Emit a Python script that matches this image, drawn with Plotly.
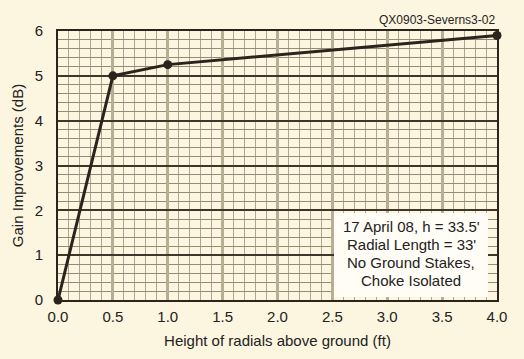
import plotly.graph_objects as go

heights = [0.0, 0.5, 1.0, 4.0]
gain_db = [0.0, 5.0, 5.25, 5.9]
x_ticks = [0.0, 0.5, 1.0, 1.5, 2.0, 2.5, 3.0, 3.5, 4.0]
x_tick_labels = ["0.0", "0.5", "1.0", "1.5", "2.0", "2.5", "3.0", "3.5", "4.0"]
y_ticks = [0, 1, 2, 3, 4, 5, 6]
note_lines = ["17 April 08, h = 33.5'", "Radial Length = 33'", "No Ground Stakes,", "Choke Isolated"]
figure_id = "QX0903-Severns3-02"

BG = "#FCF5DF"
INK = "#2a241c"
FONT = "Liberation Sans, Arial, sans-serif"

fig = go.Figure()
fig.add_trace(go.Scatter(
    x=heights, y=gain_db, mode="lines+markers",
    line=dict(color=INK, width=3),
    marker=dict(color=INK, size=9),
    showlegend=False, cliponaxis=False,
))

# white note box
fig.add_shape(type="rect", xref="paper", yref="paper",
              x0=(334 - 58) / 439, x1=(488 - 58) / 439,
              y0=(300 - 297) / 269, y1=(300 - 213) / 269,
              fillcolor="#FFFDF6", line=dict(width=0), layer="above")
for i, t in enumerate(note_lines):
    fig.add_annotation(text=t, xref="paper", yref="paper",
                       x=(411 - 58) / 439, y=(300 - (226 + 18 * i)) / 269,
                       showarrow=False, xanchor="center", yanchor="middle",
                       font=dict(family=FONT, size=15, color="#222"))

fig.add_annotation(text=figure_id, xref="paper", yref="paper",
                   x=1.0, y=(300 - 19.5) / 269, xanchor="right", yanchor="middle",
                   showarrow=False, font=dict(family=FONT, size=12, color="#222"))

fig.update_layout(
    width=524, height=359,
    margin=dict(l=58, r=27, t=31, b=59, autoexpand=False),
    paper_bgcolor=BG, plot_bgcolor=BG,
    font=dict(family=FONT, size=15, color="#222"),
    xaxis=dict(
        range=[0, 4], tickvals=x_ticks, ticktext=x_tick_labels,
        showgrid=True, gridcolor="#B8AE94", gridwidth=2.5,
        minor=dict(dtick=0.1, showgrid=True, gridcolor="#B0A58E", gridwidth=1),
        showline=True, mirror=True, linecolor=INK, linewidth=2,
        zeroline=False, ticks="", ticklabelstandoff=2, automargin=False,
        title=dict(text="Height of radials above ground (ft)", font=dict(size=15), standoff=11),
    ),
    yaxis=dict(
        range=[0, 6], tickvals=y_ticks,
        showgrid=True, gridcolor="#3e3628", gridwidth=1.5,
        minor=dict(dtick=0.2, showgrid=True, gridcolor="#958a76", gridwidth=1),
        showline=True, mirror=True, linecolor=INK, linewidth=2,
        zeroline=False, ticks="", ticklabelstandoff=10, automargin=False,
        title=dict(text="Gain Improvements (dB)", font=dict(size=15), standoff=7),
    ),
)

fig.write_html(
    "out.html",
    config={"displayModeBar": False},
    post_script="document.body.style.margin='0';document.body.style.background='" + BG + "';",
)
